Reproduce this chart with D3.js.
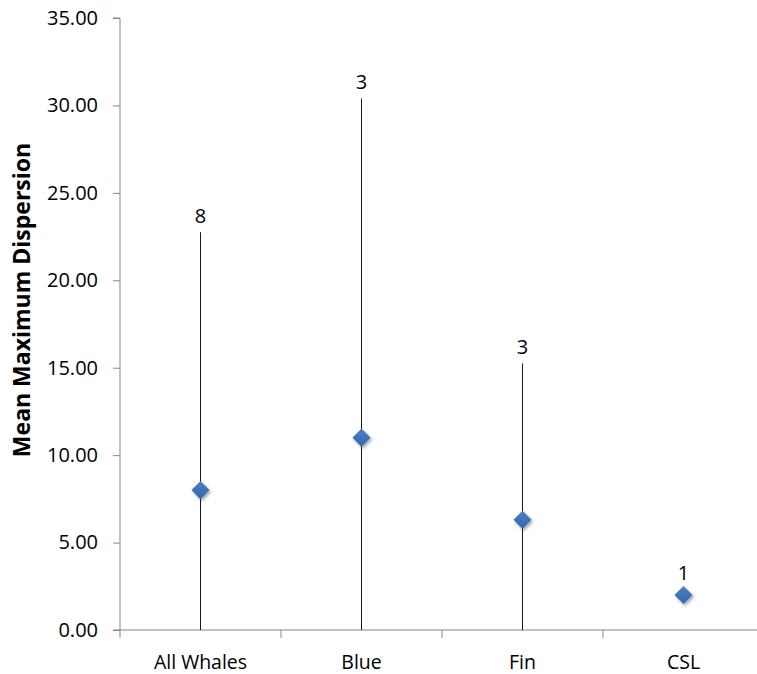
<!DOCTYPE html>
<html>
<head>
<meta charset="utf-8">
<script src="https://cdn.jsdelivr.net/npm/d3@7"></script>
<style>
  html, body { margin: 0; padding: 0; background: #fff; }
  svg { display: block; }
  text { font-family: "Open Sans", "Liberation Sans", sans-serif; fill: #000; }
</style>
</head>
<body>
<svg id="chart" width="757" height="674"></svg>
<script>
// Mean maximum dispersion by group, with upper range and sample size
const categories = ["All Whales", "Blue", "Fin", "CSL"];
const meanValues = [8.0, 11.0, 6.3, 2.0];
const upperValues = [22.75, 30.4, 15.25, null];
const sampleSizes = [8, 3, 3, 1];
const yTicks = [0, 5, 10, 15, 20, 25, 30, 35];

const data = categories.map((c, i) => ({
  cat: c,
  mean: meanValues[i],
  upper: upperValues[i],
  lower: upperValues[i] == null ? null : meanValues[i] - (upperValues[i] - meanValues[i]),
  n: sampleSizes[i]
}));

const svg = d3.select("#chart");
const margin = { left: 120, top: 18, right: -7, bottom: 44 };
const W = 757, H = 674;

const x = d3.scaleBand()
  .domain(categories)
  .range([margin.left, W - margin.right])
  .paddingInner(0).paddingOuter(0);

const y = d3.scaleLinear()
  .domain([0, 35])
  .range([H - margin.bottom, margin.top])
  .clamp(true);

// Y axis
const yAxis = d3.axisLeft(y)
  .tickValues(yTicks)
  .tickFormat(d3.format(".2f"))
  .tickSize(7)
  .tickPadding(15);

const gy = svg.append("g")
  .attr("transform", `translate(${margin.left},0)`)
  .call(yAxis);
gy.select(".domain").attr("stroke", "#868686").attr("d", `M-7,${y(35)}H0V${y(0)}`);
gy.selectAll(".tick line").attr("stroke", "#868686");
gy.selectAll(".tick text").style("font-size", "20px").attr("fill", "#000");

// X axis
const xAxis = d3.axisBottom(x).tickSize(0).tickPadding(25);
const gx = svg.append("g")
  .attr("transform", `translate(0,${y(0)})`)
  .call(xAxis);
gx.select(".domain").attr("stroke", "#868686").attr("d", `M${margin.left - 7},0H${W}`);
gx.selectAll(".tick text").style("font-size", "19.5px").attr("fill", "#000");

// Category separator ticks
const bounds = categories.map(c => x(c)).concat([x(categories[categories.length - 1]) + x.bandwidth()]);
gx.selectAll(".sep")
  .data(bounds)
  .join("line")
  .attr("class", "sep")
  .attr("x1", d => d).attr("x2", d => d)
  .attr("y1", 0).attr("y2", 8)
  .attr("stroke", "#868686");

// Range lines
const cx = d => x(d.cat) + x.bandwidth() / 2;
svg.append("g").selectAll("line")
  .data(data.filter(d => d.upper != null))
  .join("line")
  .attr("x1", cx).attr("x2", cx)
  .attr("y1", d => y(d.upper))
  .attr("y2", d => y(d.lower))
  .attr("stroke", "#1a1a1a")
  .attr("stroke-width", 1);

// Diamond markers with soft shadow
const defs = svg.append("defs");
const shadow = defs.append("filter").attr("id", "shadow")
  .attr("x", "-50%").attr("y", "-50%").attr("width", "200%").attr("height", "200%");
shadow.append("feDropShadow")
  .attr("dx", 1.5).attr("dy", 2).attr("stdDeviation", 1.6)
  .attr("flood-color", "#000").attr("flood-opacity", 0.35);

const grad = defs.append("linearGradient").attr("id", "diamondFill")
  .attr("x1", "0").attr("y1", "0").attr("x2", "0").attr("y2", "1");
grad.append("stop").attr("offset", "0%").attr("stop-color", "#4a80c8");
grad.append("stop").attr("offset", "100%").attr("stop-color", "#3467ad");

const diamond = d3.symbol().type(d3.symbolDiamond2).size(210);
svg.append("g").selectAll("path")
  .data(data)
  .join("path")
  .attr("d", diamond)
  .attr("transform", d => `translate(${cx(d)},${y(d.mean)})`)
  .attr("fill", "url(#diamondFill)")
  .attr("filter", "url(#shadow)");

// Sample size labels above each range
svg.append("g").selectAll("text")
  .data(data)
  .join("text")
  .attr("x", cx)
  .attr("y", d => (d.upper != null ? y(d.upper) - 9 : y(d.mean) - 15))
  .attr("text-anchor", "middle")
  .style("font-size", "20px")
  .text(d => d.n);

// Y axis title
svg.append("text")
  .attr("transform", `translate(30,${(y(0) + y(35)) / 2 - 24}) rotate(-90)`)
  .attr("text-anchor", "middle")
  .style("font-size", "23px")
  .style("font-weight", "bold")
  .text("Mean Maximum Dispersion");
</script>
</body>
</html>
